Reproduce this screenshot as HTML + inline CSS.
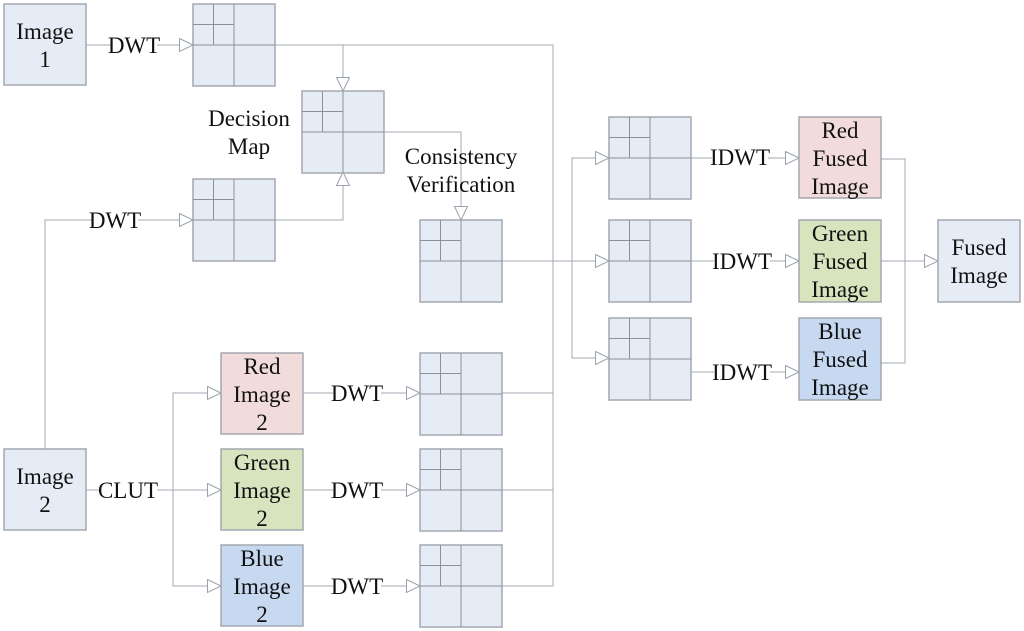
<!DOCTYPE html>
<html><head><meta charset="utf-8"><style>
html,body{margin:0;padding:0;background:#fff;}
svg{display:block;}
text{font-family:"Liberation Serif",serif;font-size:23px;fill:#111;text-anchor:middle;}
</style></head><body>
<svg width="1024" height="631" viewBox="0 0 1024 631" xmlns="http://www.w3.org/2000/svg">
<defs>
<marker id="a" markerWidth="16" markerHeight="16" refX="14" refY="7" orient="auto" markerUnits="userSpaceOnUse">
<path d="M0.5,0.5 L14,7 L0.5,13.5 Z" fill="#fff" stroke="#9aa2ad" stroke-width="1"/>
</marker>
<g id="g">
<rect x="0" y="0" width="82" height="82" fill="#e6ecf6" stroke="#a3a8b0" stroke-width="1.5"/>
<path d="M41,0V82M0,41H82M20.5,0V41M0,20.5H41" stroke="#8c9098" stroke-width="1" fill="none"/>
</g>
</defs>
<g stroke="#a3a8b0" stroke-width="1" fill="none">
<path d="M86,45H193" marker-end="url(#a)"/>
<path d="M275,45H553V586"/>
<path d="M343,45V91" marker-end="url(#a)"/>
<path d="M275,220H343V172" marker-end="url(#a)"/>
<path d="M45,449V220H193" marker-end="url(#a)"/>
<path d="M384,132H461V220" marker-end="url(#a)"/>
<path d="M502,261H609" marker-end="url(#a)"/>
<path d="M572,261V158H609" marker-end="url(#a)"/>
<path d="M572,261V358H609" marker-end="url(#a)"/>
<path d="M691,158H799" marker-end="url(#a)"/>
<path d="M691,261H799" marker-end="url(#a)"/>
<path d="M691,372H799" marker-end="url(#a)"/>
<path d="M881,159H905V363H881"/>
<path d="M881,261H938" marker-end="url(#a)"/>
<path d="M86,490H221" marker-end="url(#a)"/>
<path d="M173,490V393H221" marker-end="url(#a)"/>
<path d="M173,490V586H221" marker-end="url(#a)"/>
<path d="M303,393H420" marker-end="url(#a)"/>
<path d="M303,490H420" marker-end="url(#a)"/>
<path d="M303,586H420" marker-end="url(#a)"/>
<path d="M502,393H553M502,490H553M502,586H553"/>
</g>
<g stroke="#a3a8b0" stroke-width="1.5">
<rect x="4" y="4" width="82" height="81" fill="#e6ecf6"/>
<rect x="4" y="449" width="82" height="81" fill="#e6ecf6"/>
<rect x="221" y="353" width="82" height="81" fill="#f2dcdb"/>
<rect x="221" y="449" width="82" height="81" fill="#d7e4bd"/>
<rect x="221" y="545" width="82" height="81" fill="#c6d9f1"/>
<rect x="799" y="117" width="82" height="81" fill="#f2dcdb"/>
<rect x="799" y="220" width="82" height="82" fill="#d7e4bd"/>
<rect x="799" y="318" width="82" height="82" fill="#c6d9f1"/>
<rect x="938" y="220" width="82" height="82" fill="#e6ecf6"/>
</g>
<use href="#g" x="193" y="4"/>
<use href="#g" x="193" y="179"/>
<use href="#g" x="302" y="91"/>
<use href="#g" x="420" y="220"/>
<use href="#g" x="609" y="117"/>
<use href="#g" x="609" y="220"/>
<use href="#g" x="609" y="318"/>
<use href="#g" x="420" y="353"/>
<use href="#g" x="420" y="449"/>
<use href="#g" x="420" y="545"/>
<g fill="#fff">
<rect x="111" y="34" width="46" height="22"/>
<rect x="92" y="209" width="46" height="22"/>
<rect x="99" y="479" width="58" height="22"/>
<rect x="333" y="382" width="48" height="22"/>
<rect x="333" y="479" width="48" height="22"/>
<rect x="333" y="575" width="48" height="22"/>
<rect x="712" y="147" width="56" height="22"/>
<rect x="714" y="250" width="56" height="22"/>
<rect x="714" y="361" width="56" height="22"/>
</g>
<text x="134" y="53">DWT</text>
<text x="115" y="228">DWT</text>
<text x="128" y="498">CLUT</text>
<text x="357" y="401">DWT</text>
<text x="357" y="498">DWT</text>
<text x="357" y="594">DWT</text>
<text x="740" y="165">IDWT</text>
<text x="742" y="269">IDWT</text>
<text x="742" y="380">IDWT</text>
<text x="45" y="39">Image</text><text x="45" y="67">1</text>
<text x="45" y="484">Image</text><text x="45" y="512">2</text>
<text x="249" y="126">Decision</text><text x="249" y="154">Map</text>
<text x="461" y="164">Consistency</text><text x="461" y="192">Verification</text>
<text x="262" y="374">Red</text><text x="262" y="402">Image</text><text x="262" y="430">2</text>
<text x="262" y="470">Green</text><text x="262" y="498">Image</text><text x="262" y="526">2</text>
<text x="262" y="566">Blue</text><text x="262" y="594">Image</text><text x="262" y="622">2</text>
<text x="840" y="138">Red</text><text x="840" y="166">Fused</text><text x="840" y="194">Image</text>
<text x="840" y="241">Green</text><text x="840" y="269">Fused</text><text x="840" y="297">Image</text>
<text x="840" y="339">Blue</text><text x="840" y="367">Fused</text><text x="840" y="395">Image</text>
<text x="979" y="255">Fused</text><text x="979" y="283">Image</text>
</svg>
</body></html>
